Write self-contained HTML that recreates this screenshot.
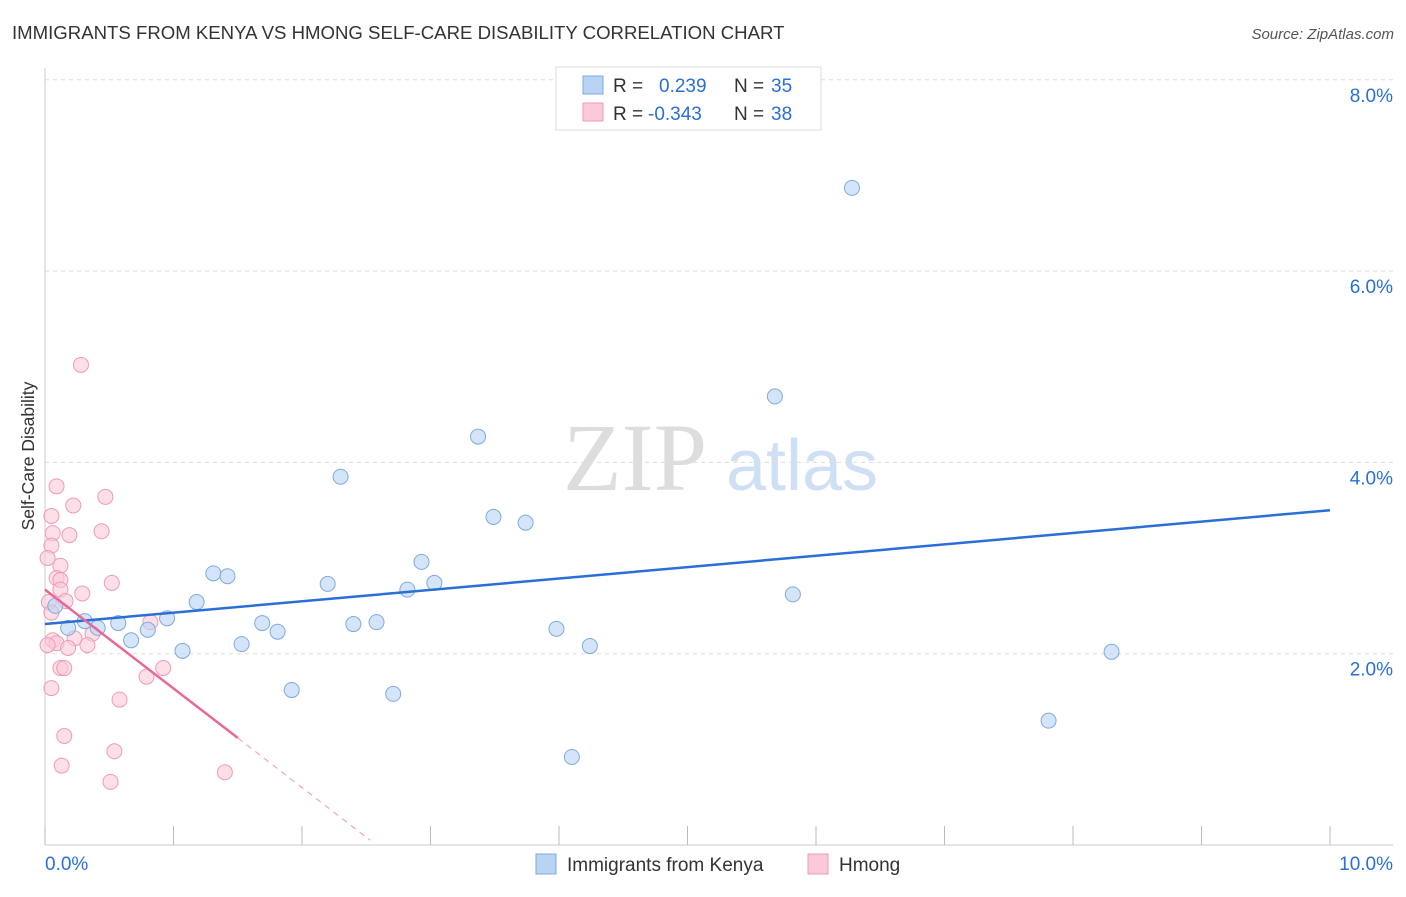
<!DOCTYPE html>
<html><head><meta charset="utf-8"><style>
body{margin:0;background:#fff;font-family:"Liberation Sans",sans-serif;}
</style></head><body>
<svg id="chart" width="1406" height="892" viewBox="0 0 1406 892" xmlns="http://www.w3.org/2000/svg" font-family="Liberation Sans, sans-serif">
<text x="12" y="39" font-size="18.6" fill="#333">IMMIGRANTS FROM KENYA VS HMONG SELF-CARE DISABILITY CORRELATION CHART</text>
<text x="1394" y="39" font-size="15" fill="#555" text-anchor="end" font-style="italic">Source: ZipAtlas.com</text>
<text x="635" y="490" font-size="96" fill="#ddd" font-family="Liberation Serif, serif" text-anchor="middle">ZIP</text>
<text x="802" y="490" font-size="72" fill="#cfe0f5" text-anchor="middle">atlas</text>
<g id="grid"></g>
<g id="axes"></g>
<g id="marks"></g>
<text transform="translate(34,456) rotate(-90)" font-size="17.5" fill="#333" text-anchor="middle">Self-Care Disability</text>
<g>
<rect x="556" y="67" width="265" height="63" fill="#fff" stroke="#ddd"/>
<rect x="583" y="76" width="20" height="18" fill="#b9d3f5" stroke="#7fa9e0"/>
<rect x="583" y="103" width="20" height="18" fill="#fbc9d8" stroke="#f09ab4"/>
<text x="613" y="92" font-size="19" fill="#333">R =</text>
<text x="659" y="92" font-size="19" fill="#2a6fd6">0.239</text>
<text x="734" y="92" font-size="19" fill="#333">N =</text>
<text x="771" y="92" font-size="19" fill="#2a6fd6">35</text>
<text x="613" y="120" font-size="19" fill="#333">R =</text>
<text x="648" y="120" font-size="19" fill="#2a6fd6">-0.343</text>
<text x="734" y="120" font-size="19" fill="#333">N =</text>
<text x="771" y="120" font-size="19" fill="#2a6fd6">38</text>
</g>
<g>
<rect x="536" y="854" width="20" height="20" fill="#b9d3f5" stroke="#7fa9e0"/>
<text x="567" y="871" font-size="19" fill="#333">Immigrants from Kenya</text>
<rect x="808" y="854" width="20" height="20" fill="#fbc9d8" stroke="#f09ab4"/>
<text x="839" y="871" font-size="19" fill="#333">Hmong</text>
</g>
</svg>
<script>
const xTicks=[0,1,2,3,4,5,6,7,8,9,10];
const yTicks=[2,4,6,8];
const yTickLabels=["2.0%","4.0%","6.0%","8.0%"];
const kenyaX=[6.28,5.68,3.37,2.30,3.49,3.74,2.93,3.03,2.82,2.20,1.31,1.42,1.18,0.95,0.80,0.57,0.31,0.18,0.41,0.67,1.07,1.53,1.69,1.81,1.92,2.40,2.58,2.71,3.98,4.24,4.10,5.82,8.30,7.81,0.08];
const kenyaY=[6.87,4.69,4.27,3.85,3.43,3.37,2.96,2.74,2.67,2.73,2.84,2.81,2.54,2.37,2.25,2.32,2.34,2.27,2.27,2.14,2.03,2.10,2.32,2.23,1.62,2.31,2.33,1.58,2.26,2.08,0.92,2.62,2.02,1.30,2.50];
const hmongX=[0.28,0.09,0.47,0.22,0.05,0.44,0.06,0.19,0.05,0.02,0.12,0.09,0.12,0.52,0.29,0.12,0.16,0.03,0.05,0.37,0.23,0.82,0.06,0.09,0.02,0.18,0.92,0.12,0.15,0.79,0.05,0.58,0.15,0.54,0.13,1.40,0.51,0.33];
const hmongY=[5.02,3.75,3.64,3.55,3.44,3.28,3.26,3.24,3.13,3.00,2.92,2.79,2.77,2.74,2.63,2.67,2.55,2.54,2.43,2.21,2.16,2.33,2.14,2.11,2.09,2.06,1.85,1.85,1.85,1.76,1.64,1.52,1.14,0.98,0.83,0.76,0.66,2.09];
const kenyaTrend=[[0,2.31],[10,3.50]];
const hmongTrend=[[0,2.67],[1.5,1.12]];
const hmongTrendDash=[[1.5,1.12],[2.53,0.05]];
const NS="http://www.w3.org/2000/svg";
const sx=v=>45+v*128.5, sy=v=>845-v*95.65;
function mk(parent,tag,attrs){const e=document.createElementNS(NS,tag);for(const k in attrs)e.setAttribute(k,attrs[k]);document.getElementById(parent).appendChild(e);return e;}
yTicks.forEach((t,i)=>{
 const g=mk('grid','line',{x1:45,x2:1393,y1:sy(t),y2:sy(t),stroke:'#ddd','stroke-dasharray':'4,4'});
 
 
 const l=mk('axes','text',{x:1393,y:sy(t)+22,'font-size':19,fill:'#2a6fd6','text-anchor':'end'});
 l.textContent=yTickLabels[i];
 
 
});
const ax=mk('axes','line',{x1:45,x2:1393,y1:845,y2:845,stroke:'#ccc'});


const ay=mk('axes','line',{x1:45,x2:45,y1:68,y2:845,stroke:'#ccc'});


xTicks.forEach(t=>{
 const k=mk('axes','line',{x1:sx(t),x2:sx(t),y1:826,y2:845,stroke:'#bbb'});
 
 
});
[["0.0%",45,"start"],["10.0%",1393,"end"]].forEach(a=>{
 const l=mk('axes','text',{x:a[1],y:870,'font-size':19,fill:'#2a6fd6','text-anchor':a[2]});
 l.textContent=a[0];
 
 
});
hmongX.forEach((x,i)=>{
 const c=mk('marks','circle',{cx:sx(x),cy:sy(hmongY[i]),r:7.5,fill:'#fbc9d8','fill-opacity':0.6,stroke:'#f09ab4'});
 
 
});
kenyaX.forEach((x,i)=>{
 const c=mk('marks','circle',{cx:sx(x),cy:sy(kenyaY[i]),r:7.5,fill:'#b9d3f5','fill-opacity':0.6,stroke:'#7fa9e0'});
 
 
});
const kl=mk('marks','line',{x1:sx(kenyaTrend[0][0]),y1:sy(kenyaTrend[0][1]),x2:sx(kenyaTrend[1][0]),y2:sy(kenyaTrend[1][1]),stroke:'#2a6fd6','stroke-width':2.5});


const hl=mk('marks','line',{x1:sx(hmongTrend[0][0]),y1:sy(hmongTrend[0][1]),x2:sx(hmongTrend[1][0]),y2:sy(hmongTrend[1][1]),stroke:'#e8689a','stroke-width':2.5});


const hd=mk('marks','line',{x1:sx(hmongTrendDash[0][0]),y1:sy(hmongTrendDash[0][1]),x2:sx(hmongTrendDash[1][0]),y2:sy(hmongTrendDash[1][1]),stroke:'#f2a6c0','stroke-width':1.2,'stroke-dasharray':'6,5'});


</script>
</body></html>
